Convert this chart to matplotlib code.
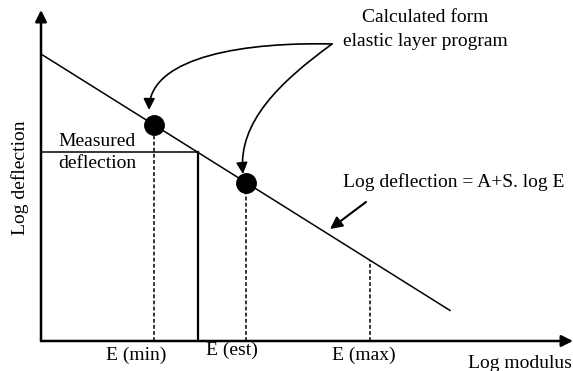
import numpy as np
import matplotlib.pyplot as plt
from matplotlib.patches import FancyArrowPatch
from matplotlib.path import Path

# log deflection = A + S * log E  (arbitrary diagram units)
A = 287.0
S = -0.627
logE_line = [0.0, 409.0]
logE_calc = [113.0, 205.0]      # points calculated from the elastic layer program
logE_min, logE_est, logE_max = 113.0, 157.0, 329.0
tick_labels = ['E (min)', 'E (est)', 'E (max)']

plt.rcParams['font.family'] = ['Liberation Serif', 'DejaVu Serif']

fig = plt.figure(figsize=(5.73, 3.71), dpi=100)
ax = fig.add_axes([41/573, 30/371, 532/573, 331/371])
ax.set_xlim(0, 532)
ax.set_ylim(0, 331)
ax.axis('off')

def defl(x):
    return A + S*np.asarray(x)

x = np.array(logE_line)
ax.plot(x, defl(x), color='black', lw=1.1)

measured = defl(logE_est)
ax.plot([0, logE_est], [measured, measured], color='black', lw=1.1)
ax.plot([logE_est, logE_est], [0, measured], color='black', lw=1.6)

for e in [logE_min, logE_calc[1], logE_max]:
    ax.plot([e, e], [0, defl(e)], color='black', lw=1.1, ls=(0, (2.5, 1.5)))

ax.plot(logE_calc, defl(logE_calc), 'o', color='black', ms=14)

# axes with arrow heads
ax.annotate('', xy=(532, 0), xytext=(0, 0), annotation_clip=False,
            arrowprops=dict(arrowstyle='-|>', lw=1.8, color='black', mutation_scale=17, shrinkA=0, shrinkB=0))
ax.annotate('', xy=(0, 331), xytext=(0, 0), annotation_clip=False,
            arrowprops=dict(arrowstyle='-|>', lw=1.8, color='black', mutation_scale=17, shrinkA=0, shrinkB=0))

# overlay in pixel coordinates for labels and callouts
ov = fig.add_axes([0, 0, 1, 1])
ov.set_xlim(0, 573)
ov.set_ylim(371, 0)
ov.axis('off')
ov.patch.set_alpha(0)

fs = 14
ov.text(20, 178, 'Log deflection', rotation=90, ha='center', va='center', fontsize=fs)
ov.text(58, 141, 'Measured', ha='left', va='center', fontsize=fs)
ov.text(58, 164, 'deflection', ha='left', va='center', fontsize=fs)
ov.text(425, 18, 'Calculated form', ha='center', va='center', fontsize=fs)
ov.text(425, 41, 'elastic layer program', ha='center', va='center', fontsize=fs)
ov.text(343, 182, 'Log deflection = A+S. log E', ha='left', va='center', fontsize=fs)
for lab, xp, yp in zip(tick_labels, [136, 232, 364], [355, 350, 355]):
    ov.text(xp, yp, lab, ha='center', va='center', fontsize=fs)
ov.text(468, 364, 'Log modulus', ha='left', va='center', fontsize=fs)

codes = [Path.MOVETO, Path.CURVE4, Path.CURVE4, Path.CURVE4]
p1 = Path([(332, 44), (250, 42), (150, 55), (149, 110)], codes)
p2 = Path([(332, 44), (280, 82), (238, 122), (243, 174)], codes)
for p in [p1, p2]:
    ov.add_patch(FancyArrowPatch(path=p, arrowstyle='-|>', mutation_scale=17,
                                 color='black', lw=1.2))
ov.add_patch(FancyArrowPatch((366, 202), (330, 229), arrowstyle='-|>', mutation_scale=18,
                             color='black', lw=1.5, shrinkA=0, shrinkB=0))

fig.savefig('out.png', dpi=100)
